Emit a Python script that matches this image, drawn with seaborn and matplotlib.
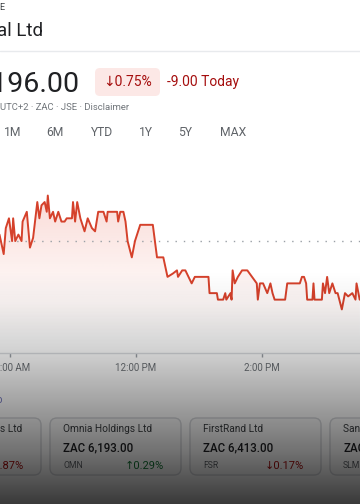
import numpy as np
import matplotlib
matplotlib.use("Agg")
import matplotlib.pyplot as plt
import seaborn as sns
from matplotlib.patches import FancyBboxPatch, Polygon
from matplotlib.colors import to_rgb

# intraday prices (minutes after 10:00, ZAC)
minutes = [-10, -6, -4, -1, 2, 3, 5, 8, 11, 12, 16, 19, 22, 26, 28, 30, 33, 35, 36, 38,
           41, 43, 46, 49, 52, 54, 59, 60, 62, 64, 67, 71, 74, 78, 81, 84, 89, 92, 93, 102,
           103, 105, 108, 110, 112, 116, 119, 124, 136, 140, 146, 150, 155, 159, 160, 164,
           167, 170, 173, 176, 189, 190, 197, 198, 203, 205, 206, 210, 211, 212, 214, 217,
           221, 226, 235, 236, 238, 241, 245, 248, 250, 252, 262, 264, 276, 278, 280, 282,
           283, 288, 289, 290, 297, 298, 300, 302, 304, 307, 310, 312, 316, 319, 322, 326,
           329, 330, 333]
prices = [1206, 1203, 1207, 1208.5, 1205, 1208.5, 1205, 1206, 1205, 1208, 1209.5, 1204,
          1205.5, 1211, 1208.5, 1210.5, 1211, 1209.5, 1212, 1208.5, 1209.5, 1208, 1209.5,
          1208, 1208, 1208.5, 1208.5, 1211, 1208, 1211, 1208.5, 1206.5, 1208.5, 1207,
          1206.5, 1209.5, 1209.5, 1208, 1209.5, 1209.5, 1208, 1209.5, 1209.5, 1208, 1205,
          1202.5, 1205, 1207.5, 1207.5, 1202.5, 1202.5, 1199.5, 1200, 1200.5, 1199.5,
          1200.5, 1200.5, 1199.5, 1198.5, 1199.5, 1199.5, 1197, 1197, 1196, 1196, 1197,
          1196, 1197, 1196, 1200.5, 1198.5, 1199.5, 1200.5, 1200.5, 1198.5, 1196, 1198.5,
          1198.5, 1197, 1198.5, 1197, 1196, 1196, 1198.5, 1198.5, 1199.5, 1199.5, 1198.5,
          1196, 1196, 1198.5, 1196, 1196, 1198.5, 1197, 1199.5, 1197, 1198.5, 1197, 1197,
          1194.5, 1197, 1196.5, 1197, 1196, 1198.5, 1196]
prev_close = 1205
tick_pos = [0, 120, 240]
tick_labels = ["10:00 AM", "12:00 PM", "2:00 PM"]
ranges = ["1M", "6M", "YTD", "1Y", "5Y", "MAX"]

card_names = ["s Ltd", "Omnia Holdings Ltd", "FirstRand Ltd", "Sanlam Ltd"]
card_prices = ["", "ZAC 6,193.00", "ZAC 6,413.00", "ZAC"]
card_tickers = ["", "OMN", "FSR", "SLM"]
card_changes = ["\u21930.87%", "\u21910.29%", "\u21930.17%", ""]

RED = "#d5412b"
DOWN = "#a50e0e"
UP = "#137333"

sns.set_theme(style="white")
plt.rcParams["font.family"] = ["Roboto", "DejaVu Sans"]

fig = plt.figure(figsize=(3.6, 5.04), dpi=100)
fig.patch.set_facecolor("white")

# pixel canvas for the page furniture
cv = fig.add_axes([0, 0, 1, 1], zorder=0)
cv.set_xlim(0, 360)
cv.set_ylim(504, 0)
cv.axis("off")

cv.text(-1, 7, "E", fontsize=6.5, color="#3c4043", va="center")
cv.text(-3, 36, "al Ltd", fontsize=13.5, color="#202124", va="baseline")
cv.plot([0, 360], [51, 51], color="#e8eaed", lw=1)

cv.text(80, 92, "1196.00", fontsize=20.5, color="#202124", ha="right", va="baseline")
cv.add_patch(FancyBboxPatch((95, 68), 65, 28, boxstyle="round,pad=0,rounding_size=5",
                            fc="#fce8e6", ec="none"))
cv.text(103, 82, "\u21930.75%", fontsize=10, color=DOWN, va="center")
cv.text(167, 82, "-9.00 Today", fontsize=10, color=DOWN, va="center")
cv.text(0, 108, "UTC+2 \u00b7 ZAC \u00b7 JSE \u00b7 Disclaimer", fontsize=6.8,
        color="#70757a", va="center")

for lbl, x in zip(ranges, [4, 46, 91, 139, 178, 220]):
    cv.text(x, 132, lbl, fontsize=8.7, color="#5f6368", va="center")

cv.text(-3, 400, "o", fontsize=7, color="#6f73c0", va="center")

# related stock cards
for i, x0 in enumerate([-90, 50, 190, 330]):
    cv.add_patch(FancyBboxPatch((x0, 418), 131, 57, boxstyle="round,pad=0,rounding_size=7",
                                fc="#fbfbfb", ec="#d6d8dc", lw=1))
    nx = 0 if i == 0 else x0 + 13
    cv.text(nx, 429, card_names[i], fontsize=7.3, color="#3c4043", va="center")
    cv.text(x0 + 13, 448, card_prices[i], fontsize=8.3, color="#202124", va="center",
            fontweight="medium")
    cv.text(x0 + 13, 466, card_tickers[i], fontsize=6.2, color="#5f6368", va="center")
    ch = card_changes[i]
    cv.text(x0 + 114, 466, ch, fontsize=8, va="center", ha="right",
            color=UP if ch.startswith("\u2191") else DOWN)

# price chart
ax = fig.add_axes([0, 151 / 504, 1, 203 / 504], zorder=1)
ax.patch.set_alpha(0)
xlo, xhi = -9.52, 333.3
ylo, yhi = 1187.8, 1219.0

verts = [(minutes[0], ylo)] + list(zip(minutes, prices)) + [(minutes[-1], ylo)]
poly = Polygon(verts, closed=True, fc="none", ec="none")
ax.add_patch(poly)
grad = np.zeros((256, 1, 4))
grad[..., :3] = to_rgb("#e8533f")
grad[..., 3] = np.linspace(0, 1, 256).reshape(-1, 1) ** 1.5 * 0.22
im = ax.imshow(grad, extent=[xlo, xhi, ylo, 1212.5], origin="lower", aspect="auto", zorder=1)
im.set_clip_path(poly)

ax.axhline(prev_close, color="#9aa0a6", lw=1, ls=(0, (1, 5)), zorder=1.5)
sns.lineplot(x=minutes, y=prices, ax=ax, color=RED, linewidth=1.4, estimator=None, zorder=2)

ax.set_xlim(xlo, xhi)
ax.set_ylim(ylo, yhi)
ax.set_yticks([])
ax.set_xticks(tick_pos)
ax.set_xticklabels(tick_labels)
ax.set_xlabel("")
ax.set_ylabel("")
for s in ["top", "left", "right"]:
    ax.spines[s].set_visible(False)
ax.spines["bottom"].set_color("#dadce0")
ax.spines["bottom"].set_linewidth(1)
ax.tick_params(axis="x", length=3, width=1, color="#9aa0a6", labelsize=7,
               labelcolor="#70757a", pad=4, bottom=True, direction="out")

# dark fade over the lower part of the screen
ov = fig.add_axes([0, 0, 1, 1], zorder=10)
ov.axis("off")
rows = np.arange(504)
shade = np.zeros((504, 1, 4))
shade[..., 3] = np.interp(rows, [0, 270, 303, 353, 403, 453, 504],
                          [0, 0, 0.05, 0.19, 0.37, 0.56, 0.78]).reshape(-1, 1)
ov.imshow(shade, extent=[0, 1, 0, 1], aspect="auto", origin="upper")
ov.set_xlim(0, 1)
ov.set_ylim(0, 1)

fig.savefig("out.png", dpi=100)
